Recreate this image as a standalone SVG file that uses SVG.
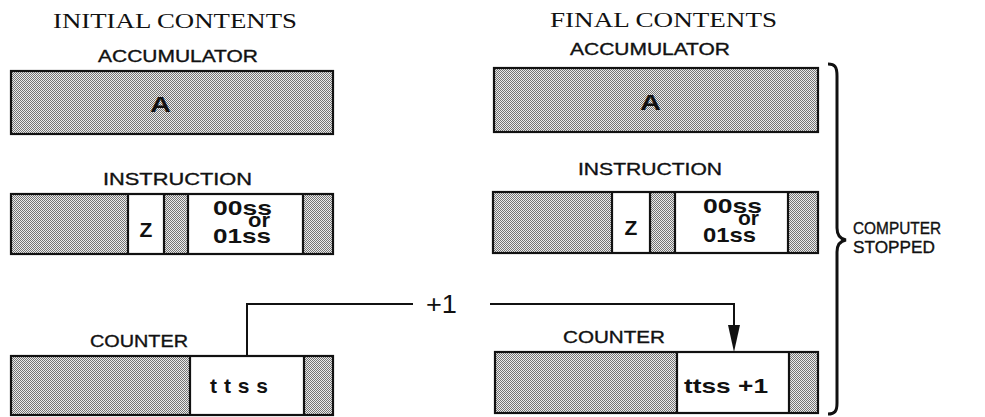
<svg xmlns="http://www.w3.org/2000/svg" width="985" height="417" viewBox="0 0 985 417">
<defs>
<pattern id="shade" width="2" height="2" patternUnits="userSpaceOnUse">
<rect width="2" height="2" fill="#ececec"/>
<rect width="1" height="1" fill="#747474"/>
<rect x="1" y="1" width="1" height="1" fill="#747474"/>
</pattern>
</defs>
<style>
.sh{fill:url(#shade)}
.wh{fill:#fff}
.ol{fill:none;stroke:#111;stroke-width:2.2}
.dv{stroke:#111;stroke-width:2.2}
.title{font-family:"Liberation Serif",serif;font-size:21px;fill:#111}
.lbl{font-family:"Liberation Sans",Arial,sans-serif;font-size:17px;fill:#111;stroke:#111;stroke-width:0.35}
.val{font-family:"Liberation Sans",Arial,sans-serif;font-size:21px;font-weight:bold;fill:#111}
.big{font-family:"Liberation Sans",Arial,sans-serif;font-size:22px;font-weight:bold;fill:#111}
.plus{font-family:"Liberation Sans",Arial,sans-serif;font-size:25px;fill:#111}
.conn{fill:none;stroke:#111;stroke-width:2}
</style>
<rect width="985" height="417" fill="#fff"/>

<g id="titles">
<text class="title" x="53" y="28" textLength="244" lengthAdjust="spacingAndGlyphs">INITIAL CONTENTS</text>
<text class="title" x="550" y="27" textLength="227" lengthAdjust="spacingAndGlyphs">FINAL CONTENTS</text>
</g>

<g id="acc-initial">
<text class="lbl" x="98" y="62" textLength="160" lengthAdjust="spacingAndGlyphs">ACCUMULATOR</text>
<rect class="sh" x="11" y="71" width="322" height="63"/>
<rect class="ol" x="11" y="71" width="322" height="63"/>
<text class="big" x="150" y="112" textLength="21" lengthAdjust="spacingAndGlyphs">A</text>
</g>

<g id="instr-initial">
<text class="lbl" x="103" y="185" textLength="149" lengthAdjust="spacingAndGlyphs">INSTRUCTION</text>
<rect class="sh" x="11" y="194" width="322" height="60"/>
<rect class="wh" x="128" y="194" width="36" height="60"/>
<rect class="wh" x="188" y="194" width="115" height="60"/>
<rect class="ol" x="11" y="194" width="322" height="60"/>
<line class="dv" x1="128" y1="194" x2="128" y2="254"/>
<line class="dv" x1="164" y1="194" x2="164" y2="254"/>
<line class="dv" x1="188" y1="194" x2="188" y2="254"/>
<line class="dv" x1="303" y1="194" x2="303" y2="254"/>
<text class="val" x="146" y="237" text-anchor="middle" font-size="24">Z</text>
<text class="val" x="213" y="215" font-size="19" textLength="59" lengthAdjust="spacingAndGlyphs">00ss</text>
<text class="val" x="248" y="227" font-size="16" textLength="22" lengthAdjust="spacingAndGlyphs">or</text>
<text class="val" x="213" y="243" font-size="19" textLength="58" lengthAdjust="spacingAndGlyphs">01ss</text>
</g>

<g id="counter-initial">
<text class="lbl" x="90" y="347" textLength="98" lengthAdjust="spacingAndGlyphs">COUNTER</text>
<rect class="sh" x="11" y="356" width="322" height="59"/>
<rect class="wh" x="190" y="356" width="114" height="59"/>
<rect class="ol" x="11" y="356" width="322" height="59"/>
<line class="dv" x1="190" y1="356" x2="190" y2="415"/>
<line class="dv" x1="304" y1="356" x2="304" y2="415"/>
<text class="val" x="210" y="393" textLength="58" lengthAdjust="spacing">ttss</text>
</g>

<g id="acc-final">
<text class="lbl" x="570" y="55" textLength="160" lengthAdjust="spacingAndGlyphs">ACCUMULATOR</text>
<rect class="sh" x="494" y="68" width="324" height="64"/>
<rect class="ol" x="494" y="68" width="324" height="64"/>
<text class="big" x="640" y="110" textLength="21" lengthAdjust="spacingAndGlyphs">A</text>
</g>

<g id="instr-final">
<text class="lbl" x="578" y="175" textLength="144" lengthAdjust="spacingAndGlyphs">INSTRUCTION</text>
<rect class="sh" x="493" y="192" width="325" height="61"/>
<rect class="wh" x="612" y="192" width="38" height="61"/>
<rect class="wh" x="675" y="192" width="113" height="61"/>
<rect class="ol" x="493" y="192" width="325" height="61"/>
<line class="dv" x1="612" y1="192" x2="612" y2="253"/>
<line class="dv" x1="650" y1="192" x2="650" y2="253"/>
<line class="dv" x1="675" y1="192" x2="675" y2="253"/>
<line class="dv" x1="788" y1="192" x2="788" y2="253"/>
<text class="val" x="631" y="235" text-anchor="middle" font-size="24">Z</text>
<text class="val" x="703" y="213" font-size="19" textLength="59" lengthAdjust="spacingAndGlyphs">00ss</text>
<text class="val" x="738" y="225" font-size="16" textLength="21" lengthAdjust="spacingAndGlyphs">or</text>
<text class="val" x="703" y="242" font-size="19" textLength="53" lengthAdjust="spacingAndGlyphs">01ss</text>
</g>

<g id="counter-final">
<text class="lbl" x="563" y="343" textLength="102" lengthAdjust="spacingAndGlyphs">COUNTER</text>
<rect class="sh" x="495" y="352" width="323" height="61"/>
<rect class="wh" x="677" y="352" width="112" height="61"/>
<rect class="ol" x="495" y="352" width="323" height="61"/>
<line class="dv" x1="677" y1="352" x2="677" y2="413"/>
<line class="dv" x1="789" y1="352" x2="789" y2="413"/>
<text class="val" x="684" y="393" textLength="84" lengthAdjust="spacingAndGlyphs">ttss +1</text>
</g>

<g id="connectors">
<path class="conn" d="M247,356 V304 H413"/>
<text class="plus" x="426" y="313" textLength="31" lengthAdjust="spacingAndGlyphs">+1</text>
<path class="conn" d="M490,304 H734 V326"/>
<polygon points="728,325 740,325 734,352" fill="#111"/>
</g>

<g id="brace">
<path d="M828,64 C835,64 837,67 837,76 L837,228 C837,235 840,239 846,240 C840,241 837,245 837,252 L837,403 C837,411 835,414 828,414" fill="none" stroke="#111" stroke-width="3"/>
<text class="lbl" x="853" y="234" font-size="18" textLength="88" lengthAdjust="spacingAndGlyphs">COMPUTER</text>
<text class="lbl" x="853" y="253" font-size="18" textLength="82" lengthAdjust="spacingAndGlyphs">STOPPED</text>
</g>
</svg>
